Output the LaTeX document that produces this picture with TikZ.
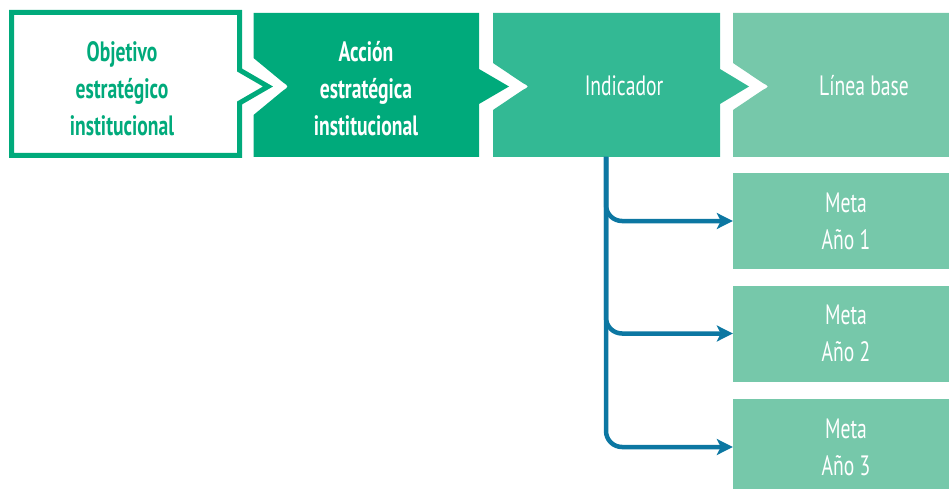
\documentclass[tikz,border=0pt]{standalone}
\usepackage{fontspec}
\setmainfont[FakeStretch=0.7]{PT Sans}
\usetikzlibrary{arrows.meta}
\definecolor{cone}{RGB}{0,170,123}
\definecolor{ctwo}{RGB}{0,170,123}
\definecolor{cthree}{RGB}{51,185,148}
\definecolor{cfour}{RGB}{118,200,170}
\definecolor{cblue}{RGB}{12,119,162}
\tikzset{
  lbl/.style={align=center, inner sep=0pt, font=\fontsize{28}{37}\selectfont},
  metabox/.style={fill=cfour, draw=none, minimum width=226pt, minimum height=96pt, inner sep=0pt,
     align=center, text=white, font=\fontsize{28}{37}\selectfont},
  conn/.style={draw=cblue, line width=4.5pt, rounded corners=16pt,
     -{Stealth[length=16pt, width=16pt, inset=4pt]}}
}
\begin{document}
\begin{tikzpicture}[x=1pt,y=-1pt]
\useasboundingbox (0,0) rectangle (949,489);
\begin{scope}
\clip (0,0) rectangle (949,489);
% box 4
\fill[cfour] (733,13) -- (960,13) -- (960,157) -- (733,157) -- (733,110) -- (762.75,90) .. controls (769.5,86.5) .. (762.75,83) -- (733,63) -- cycle;
% box 3
\fill[cthree] (493,13) -- (720,13) -- (720,69) -- (749,86.5) -- (720,104) -- (720,157) -- (493,157) -- (493,110) -- (522.75,90) .. controls (529.5,86.5) .. (522.75,83) -- (493,63) -- cycle;
% box 2
\fill[ctwo] (253.5,13) -- (479,13) -- (479,69) -- (509,86.5) -- (479,104) -- (479,157) -- (253.5,157) -- (253.5,115) -- (282.8,90.8) .. controls (289,86.5) .. (282.8,82.2) -- (253.5,58) -- cycle;
% box 1
\draw[line width=5pt, draw=cone, fill=white] (11.5,12.5) -- (239.5,12.5) -- (239.5,70) -- (268,86.5) -- (239.5,103) -- (239.5,155.5) -- (11.5,155.5) -- cycle;
% texts
\node[lbl, text=cone, font=\fontsize{28}{37}\selectfont\bfseries] (t1) at (122,89) {Objetivo\\estratégico\\institucional};
\node[lbl, text=white, font=\fontsize{28}{37}\selectfont\bfseries] (t2) at (366,89) {Acción\\estratégica\\institucional};
\node[lbl, text=white] (t3) at (624,86) {Indicador};
\node[lbl, text=white] (t4) at (864,86) {Línea base};
% meta boxes
\node[metabox] (m1) at (846,221) {Meta\\Año 1};
\node[metabox] (m2) at (846,333.5) {Meta\\Año 2};
\node[metabox] (m3) at (846,447) {Meta\\Año 3};
% connectors
\coordinate (trunk) at (606,157);
\draw[conn] (trunk) |- (m1.west);
\draw[conn] (trunk) |- (m2.west);
\draw[conn] (trunk) |- (m3.west);
\end{scope}
\end{tikzpicture}
\end{document}
